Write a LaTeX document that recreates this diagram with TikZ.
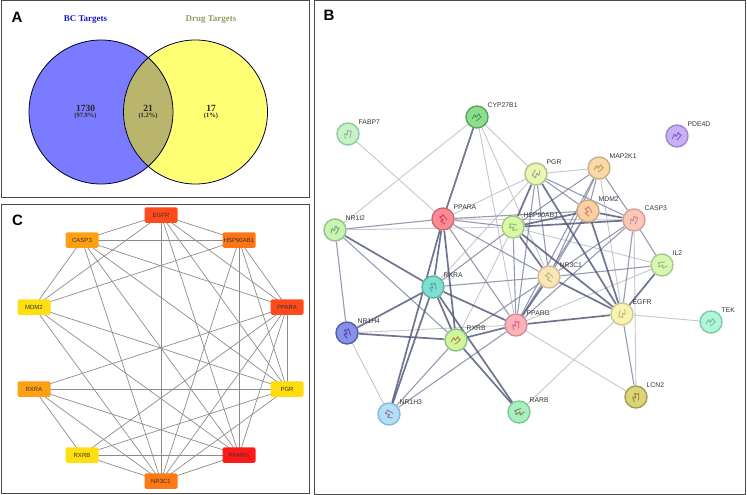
\documentclass[tikz,border=0pt]{standalone}
\usepackage{fontspec}
\setmainfont{Liberation Sans}
\newfontfamily\serifbold[BoldFont=Liberation Serif Bold]{Liberation Serif}
\usetikzlibrary{backgrounds}
\definecolor{frameC}{HTML}{4A4A4A}
\definecolor{vennBlue}{HTML}{7B7BFF}
\definecolor{vennYellow}{HTML}{FFFF73}
\definecolor{vennMix}{HTML}{B9B56C}
\definecolor{edgeDark}{HTML}{565C7C}
\definecolor{edgeMid}{HTML}{8489A4}
\definecolor{edgeLight}{HTML}{C4C6D0}
\tikzset{
  panel/.style={draw=frameC,line width=1pt},
  panelletter/.style={font=\bfseries\fontsize{15}{15}\selectfont,text=black,inner sep=0pt},
  venncircle/.style={draw=black!80!blue,line width=0.8pt},
  venntitle/.style={font=\serifbold\bfseries\fontsize{9}{9}\selectfont,inner sep=0pt},
  vennnum/.style={font=\serifbold\bfseries\fontsize{9.5}{10}\selectfont,text=black!85,inner sep=0pt},
  vennpct/.style={font=\serifbold\bfseries\fontsize{6.5}{7}\selectfont,text=black!85,inner sep=0pt},
  hubbox/.style={rounded corners=1.5pt,minimum width=33pt,minimum height=15.5pt,inner sep=0pt,font=\fontsize{6}{6}\selectfont,text=black!80},
  hubedge/.style={draw=black!45,line width=0.7pt},
  prot/.style={circle,minimum size=22pt,inner sep=0pt,line width=1.4pt},
  protlabel/.style={anchor=west,inner sep=0pt,font=\fontsize{6.8}{7}\selectfont,text=black!80},
  ethick/.style={draw=edgeDark,line width=1.7pt,opacity=0.85},
  emid/.style={draw=edgeMid,line width=1.1pt,opacity=0.85},
  ethin/.style={draw=edgeLight,line width=0.9pt},
  glyph/.style={line width=0.9pt,rounded corners=1pt,opacity=0.75}
}
\begin{document}
\begin{tikzpicture}[x=1pt,y=-1pt]
\useasboundingbox (0,0) rectangle (747,495);
%% Panel A
\draw[panel] (1,1) rectangle (309,197);
\node[panelletter] (lA) at (17,17) {A};
\fill[vennBlue] (101,112) circle (72);
\fill[vennYellow] (195.5,112) circle (72);
\begin{scope}
  \clip (101,112) circle (72);
  \fill[vennMix] (195.5,112) circle (72);
\end{scope}
\draw[venncircle] (101,112) circle (72);
\draw[venncircle] (195.5,112) circle (72);
\node[venntitle,text=blue!75!black!90] (tBC) at (85.5,19.5) {BC Targets};
\node[venntitle,text=vennMix!85!black] (tDrug) at (211,19.5) {Drug Targets};
\node[vennnum] (n1) at (85.5,108) {1730};
\node[vennpct] (p1) at (85.5,116) {(97.9\%)};
\node[vennnum] (n2) at (148,108) {21};
\node[vennpct] (p2) at (148,116) {(1.2\%)};
\node[vennnum] (n3) at (211,108) {17};
\node[vennpct] (p3) at (211,116) {(1\%)};
%% Panel C
\draw[panel] (1,204) rectangle (309,493);
\node[panelletter] (lC) at (17.5,220) {C};
\foreach \n/\x/\y/\c in {
  EGFR/161/215/FF4A1C, HSP90AB1/239/240/FF7414, PPARA/287/307/FF4A1C,
  PGR/287/389/FFDC0C, PPARG/239/455/FF1A1A, NR3C1/161/481/FF7A14,
  RXRB/82/455/FFDF10, RXRA/34/389/FFA012, MDM2/34/307/FFDF10, CASP3/82/240/FFA012}{
  \definecolor{tmpc}{HTML}{\c}
  \node[hubbox,fill=tmpc] (c\n) at (\x,\y) {\n};
}
\begin{scope}[on background layer]
\foreach \a/\b in {
  EGFR/CASP3,EGFR/HSP90AB1,EGFR/MDM2,EGFR/NR3C1,EGFR/PGR,EGFR/PPARA,EGFR/PPARG,
  CASP3/HSP90AB1,CASP3/MDM2,CASP3/PPARA,CASP3/PGR,CASP3/PPARG,CASP3/NR3C1,
  HSP90AB1/MDM2,HSP90AB1/PPARA,HSP90AB1/PGR,HSP90AB1/PPARG,HSP90AB1/NR3C1,
  PPARA/PGR,PPARA/PPARG,PPARA/NR3C1,PPARA/RXRA,PPARA/RXRB,
  PGR/MDM2,PGR/RXRA,PGR/RXRB,PGR/NR3C1,
  PPARG/RXRB,PPARG/NR3C1,PPARG/RXRA,PPARG/MDM2,
  RXRA/RXRB,RXRA/NR3C1,RXRB/NR3C1,MDM2/NR3C1}{
  \draw[hubedge] (c\a.center) -- (c\b.center);
}
\end{scope}
%% Panel B
\draw[panel] (314,1) rectangle (745,494);
\node[panelletter] (lB) at (329,15) {B};
\foreach \n/\x/\y/\f/\e/\g/\r in {
  CYP27B1/477/117/8FDC8F/4FA85F/2E8B3E/0,
  FABP7/348/134/C8F2C8/8CCB9C/7FA88F/40,
  PPARA/443/219/FF8A94/C86A72/B8304C/90,
  NR1I2/335/230/C8F5B0/92BF92/5A8A6A/20,
  HSP90AB1/513/227/D8FAA0/A0C890/7F9F6F/130,
  RXRA/433/287/80E0D0/5FB0A8/3F8FA8/60,
  PDE4D/677/136/C8B0F5/9F88CF/6F3FB8/10,
  PGR/536/174/E8F8B0/B0C090/A07F90/200,
  MAP2K1/599/168/FAD8A8/C8AF88/B08A40/0,
  MDM2/588/211/FCD0A0/C8A888/C05F70/80,
  CASP3/634/220/FCC8B8/CFA098/C06F90/30,
  IL2/662/265/D8F8B0/A8C890/88A868/150,
  NR3C1/549/277/FBE5B8/CFBF98/A0B060/100,
  NR1H4/347/333/8890E8/5060B0/3030A0/70,
  RXRB/456/340/D0F5A0/90C088/B06010/0,
  PPARG/516/325/FFB0B8/C89098/C04F7F/45,
  NR1H3/389/414/B0E0FA/88B8D0/A05070/110,
  RARB/519/412/A8F0C0/80C898/706030/160,
  EGFR/622/314/F8F4B0/C8C890/B0B070/220,
  TEK/711/322/B0F8D8/80C8A8/70A898/0,
  LCN2/636/397/DCD478/A09F50/806F30/50}{
  \definecolor{tmpf}{HTML}{\f}\definecolor{tmpe}{HTML}{\e}\definecolor{tmpg}{HTML}{\g}
  \node[prot,fill=tmpf,draw=tmpe] (b\n) at (\x,\y) {};
  \draw[glyph,draw=tmpg,rotate around={\r:(\x,\y)}]
    (\x-5,\y+2) -- (\x-2,\y-3) -- (\x-1,\y+1) -- (\x+2,\y-4) -- (\x+3,\y) -- (\x+5,\y-1)
    -- (\x+2,\y+2) -- (\x-1,\y+4);
  \node[protlabel] (t\n) at (\x+10.5,\y-12) {\n};
}
\begin{scope}[on background layer]
\foreach \a/\b in {
  FABP7/PPARA,CYP27B1/NR1I2,CYP27B1/PGR,CYP27B1/NR3C1,CYP27B1/PPARG,
  NR1I2/HSP90AB1,PPARA/PGR,PPARA/CASP3,HSP90AB1/RXRB,HSP90AB1/IL2,
  PGR/RXRA,PGR/MAP2K1,MAP2K1/EGFR,IL2/PPARG,CASP3/LCN2,
  NR1H4/PPARG,NR1H4/NR1H3,PPARG/LCN2,EGFR/RARB,EGFR/TEK}{
  \draw[ethin] (b\a) -- (b\b);
}
\foreach \a/\b in {
  NR1I2/PPARA,NR1I2/NR1H4,NR1I2/RXRB,PPARA/HSP90AB1,PPARA/MDM2,PPARA/NR3C1,PPARA/PPARG,
  HSP90AB1/PPARG,HSP90AB1/RXRA,PGR/MDM2,PGR/CASP3,PGR/NR3C1,PGR/PPARG,
  MAP2K1/MDM2,MAP2K1/CASP3,MAP2K1/NR3C1,MAP2K1/PPARG,MDM2/NR3C1,MDM2/PPARG,
  CASP3/IL2,CASP3/EGFR,CASP3/NR3C1,CASP3/PPARG,IL2/NR3C1,EGFR/LCN2,
  NR3C1/RXRA,NR3C1/RXRB,RXRB/NR1H3,PPARG/NR1H3,HSP90AB1/MAP2K1}{
  \draw[emid] (b\a) -- (b\b);
}
\foreach \a/\b in {
  CYP27B1/PPARA,NR1I2/RXRA,PPARA/RXRA,PPARA/RXRB,PPARA/NR1H3,
  HSP90AB1/PGR,HSP90AB1/MDM2,HSP90AB1/CASP3,HSP90AB1/NR3C1,HSP90AB1/EGFR,
  PGR/EGFR,MDM2/CASP3,MDM2/EGFR,IL2/EGFR,NR3C1/EGFR,NR3C1/PPARG,PPARG/EGFR,
  RXRA/RXRB,RXRA/PPARG,RXRA/NR1H4,RXRA/NR1H3,RXRA/RARB,
  RXRB/NR1H4,RXRB/PPARG,RXRB/RARB}{
  \draw[ethick] (b\a) -- (b\b);
}
\end{scope}
\end{tikzpicture}
\end{document}
